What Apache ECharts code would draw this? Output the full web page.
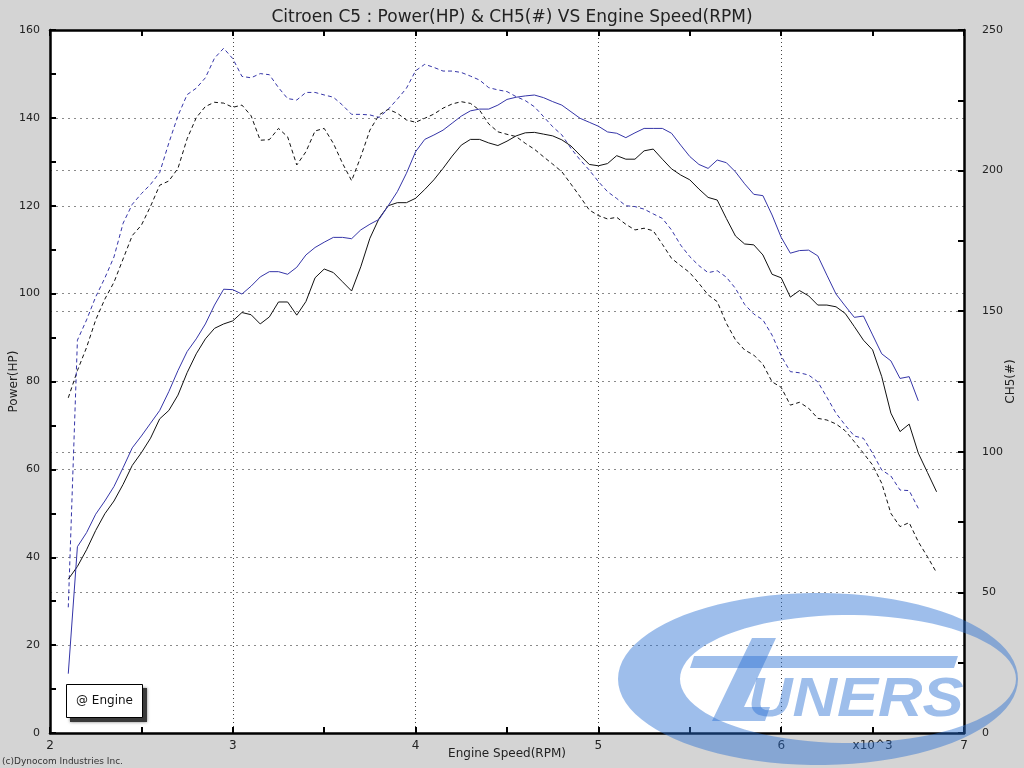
<!DOCTYPE html>
<html>
<head>
<meta charset="utf-8">
<title>Citroen C5 dyno</title>
<script src="https://cdn.jsdelivr.net/npm/echarts@6/dist/echarts.min.js"></script>
<style>
  html, body { margin: 0; padding: 0; background: #d4d4d4; }
  #chart { width: 1024px; height: 768px; }
</style>
</head>
<body>
<div id="chart"></div>
<script>
// engine speed samples (RPM), one every 50 rpm
const rpm = [
  2100, 2150, 2200, 2250, 2300, 2350, 2400, 2450, 2500, 2550,
  2600, 2650, 2700, 2750, 2800, 2850, 2900, 2950, 3000, 3050,
  3100, 3150, 3200, 3250, 3300, 3350, 3400, 3450, 3500, 3550,
  3600, 3650, 3700, 3750, 3800, 3850, 3900, 3950, 4000, 4050,
  4100, 4150, 4200, 4250, 4300, 4350, 4400, 4450, 4500, 4550,
  4600, 4650, 4700, 4750, 4800, 4850, 4900, 4950, 5000, 5050,
  5100, 5150, 5200, 5250, 5300, 5350, 5400, 5450, 5500, 5550,
  5600, 5650, 5700, 5750, 5800, 5850, 5900, 5950, 6000, 6050,
  6100, 6150, 6200, 6250, 6300, 6350, 6400, 6450, 6500, 6550,
  6600, 6650, 6700, 6750, 6800, 6850
];

// Power(HP), blue run (solid)
const powerBlue = [
  13.5, 42.4, 45.6, 49.8, 52.8, 56.1, 60.4, 64.9, 67.6, 70.5,
  73.4, 77.7, 82.5, 86.8, 89.7, 93.1, 97.4, 101.0, 100.9, 99.9,
  101.7, 103.8, 105.0, 105.0, 104.4, 106.0, 108.8, 110.5, 111.7, 112.8,
  112.8, 112.5, 114.5, 115.8, 116.9, 120.0, 123.2, 127.4, 132.3, 135.1,
  136.1, 137.2, 138.8, 140.4, 141.6, 142.0, 142.0, 142.9, 144.2, 144.7,
  145.0, 145.2, 144.6, 143.7, 142.9, 141.4, 139.9, 139.0, 138.1, 136.8,
  136.5, 135.5, 136.6, 137.6, 137.6, 137.6, 136.5, 133.8, 131.2, 129.4,
  128.5, 130.4, 129.8, 127.7, 125.0, 122.6, 122.3, 117.9, 112.8, 109.2,
  109.8, 109.9, 108.6, 104.2, 99.9, 97.2, 94.6, 94.9, 90.6, 86.3,
  84.7, 80.7, 81.1, 75.6
];

// Power(HP), black run (solid)
const powerBlack = [
  35.0, 37.9, 41.7, 46.1, 49.9, 52.8, 56.6, 60.9, 63.8, 67.1,
  71.5, 73.4, 76.9, 82.0, 86.3, 89.7, 92.1, 93.1, 93.8, 95.7,
  95.2, 93.1, 94.7, 98.1, 98.1, 95.1, 98.2, 103.6, 105.6, 104.8,
  102.7, 100.6, 106.1, 112.6, 117.1, 120.0, 120.7, 120.7, 121.7, 123.7,
  125.9, 128.5, 131.3, 133.8, 135.1, 135.1, 134.3, 133.7, 134.7, 135.9,
  136.6, 136.7, 136.3, 135.9, 135.0, 133.6, 131.5, 129.4, 129.1, 129.6,
  131.4, 130.6, 130.6, 132.5, 132.9, 130.6, 128.4, 127.0, 125.9, 123.8,
  121.9, 121.3, 117.1, 113.1, 111.3, 111.1, 108.8, 104.4, 103.6, 99.2,
  100.7, 99.5, 97.4, 97.4, 97.0, 95.5, 92.5, 89.4, 87.2, 81.1,
  72.8, 68.6, 70.3, 63.7, 59.3, 54.9
];

// CH5(#), blue run (dashed, right axis)
const ch5Blue = [
  44.7, 139.7, 146.9, 155.1, 161.8, 169.3, 181.3, 188.0, 191.8, 195.1,
  199.3, 209.8, 219.5, 227.0, 229.3, 233.0, 240.0, 243.5, 239.8, 233.5,
  233.0, 234.5, 234.1, 229.5, 225.6, 225.1, 227.8, 227.8, 226.9, 226.1,
  223.3, 220.0, 220.0, 219.8, 218.9, 221.8, 225.4, 229.3, 235.5, 237.8,
  236.7, 235.4, 235.4, 234.9, 233.6, 232.2, 229.5, 228.7, 228.1, 226.3,
  224.9, 222.7, 219.2, 215.6, 212.7, 207.9, 203.8, 200.2, 196.1, 192.5,
  190.1, 187.5, 187.2, 186.3, 184.6, 183.0, 178.9, 173.5, 169.4, 166.2,
  163.7, 164.4, 162.1, 158.1, 152.4, 149.0, 146.9, 141.5, 134.1, 128.5,
  128.1, 127.3, 124.9, 119.4, 113.7, 109.5, 105.6, 104.8, 99.5, 93.5,
  91.4, 86.4, 86.2, 79.9
];

// CH5(#), black run (dashed, right axis)
const ch5Black = [
  119.2, 128.9, 137.1, 146.9, 154.3, 160.3, 168.6, 176.9, 180.6, 187.3,
  194.8, 196.3, 200.8, 211.3, 218.8, 222.8, 224.3, 224.0, 222.5, 223.3,
  219.5, 210.8, 211.0, 215.0, 212.0, 202.0, 206.7, 214.1, 215.0, 209.7,
  202.6, 196.4, 204.9, 214.4, 219.8, 221.8, 220.4, 218.0, 217.2, 218.6,
  220.1, 222.2, 223.7, 224.5, 223.9, 221.5, 216.6, 213.8, 212.9, 212.1,
  209.7, 207.6, 204.9, 202.3, 199.6, 195.2, 190.7, 186.0, 184.0, 182.8,
  183.4, 180.9, 178.9, 179.5, 178.6, 173.8, 168.8, 166.2, 163.7, 159.9,
  155.8, 153.4, 145.7, 139.8, 136.2, 134.4, 131.1, 124.9, 122.9, 116.6,
  117.6, 115.5, 111.9, 111.3, 109.9, 107.5, 103.6, 99.5, 95.3, 88.8,
  78.1, 73.4, 74.8, 68.0, 62.7, 57.0
];

const pairs = vals => vals.map((v, i) => [rpm[i], v]);

const FONT = 'DejaVu Sans';
const BLUE = '#3535a8';
const LOGO = 'rgba(40,110,210,0.45)';

// watermark ring: outer ellipse with an offset elliptical hole
function ringPoints(cx, cy, rx, ry, cx2, rx2, ry2) {
  const pts = [];
  const n = 90;
  for (let i = 0; i <= n; i++) {
    const a = i / n * Math.PI * 2;
    pts.push([cx + rx * Math.cos(a), cy + ry * Math.sin(a)]);
  }
  for (let i = n; i >= 0; i--) {
    const a = i / n * Math.PI * 2;
    pts.push([cx2 + rx2 * Math.cos(a), cy + ry2 * Math.sin(a)]);
  }
  return pts;
}

const axisLine = { show: true, onZero: false, lineStyle: { color: '#000', width: 2.5 } };
const tick = { show: true, inside: true, length: 6, lineStyle: { color: '#000', width: 2 } };
const minor = { show: true, splitNumber: 2, length: 6, lineStyle: { color: '#000', width: 2 } };
const dotted = { show: true, lineStyle: { color: '#8a8a8a', type: [2, 4], width: 1 } };
const label = { color: '#222', fontFamily: FONT, fontSize: 11 };
const nameStyle = { fontFamily: FONT, fontSize: 12, color: '#222' };

const chart = echarts.init(document.getElementById('chart'));
chart.setOption({
  animation: false,
  backgroundColor: '#d4d4d4',
  title: {
    text: 'Citroen C5 : Power(HP) & CH5(#) VS Engine Speed(RPM)',
    left: 'center',
    top: 4,
    textStyle: { fontFamily: FONT, fontSize: 17, fontWeight: 'normal', color: '#222' }
  },
  grid: {
    left: 50, right: 60, top: 30, bottom: 35, show: true, backgroundColor: '#fff', borderWidth: 0,
    outerBoundsMode: 'none', containLabel: false
  },
  xAxis: [
    {
      type: 'value', position: 'bottom', min: 2000, max: 7000, interval: 500,
      axisLine: axisLine, axisTick: tick, splitLine: { show: false },
      axisLabel: Object.assign({}, label, {
        fontSize: 12, margin: 7,
        formatter: v => v % 1000 === 0 ? String(v / 1000) : (v === 6500 ? 'x10^3' : '')
      }),
      name: 'Engine Speed(RPM)', nameLocation: 'middle', nameGap: 15, nameMoveOverlap: false,
      nameTextStyle: nameStyle
    },
    {
      type: 'value', position: 'top', min: 2000, max: 7000, interval: 1000,
      axisLine: axisLine, axisTick: tick, minorTick: minor,
      axisLabel: { show: false },
      splitLine: { show: true, lineStyle: { color: '#444', type: [1, 3], width: 1 } }
    }
  ],
  yAxis: [
    {
      type: 'value', position: 'left', min: 0, max: 160, interval: 20,
      axisLine: axisLine, axisTick: tick, minorTick: minor, splitLine: dotted,
      axisLabel: Object.assign({}, label, { margin: 10 }),
      name: 'Power(HP)', nameLocation: 'middle', nameGap: 30, nameRotate: 90, nameMoveOverlap: false,
      nameTextStyle: nameStyle
    },
    {
      type: 'value', position: 'right', min: 0, max: 250, interval: 50,
      axisLine: axisLine, axisTick: tick, minorTick: minor, splitLine: dotted,
      axisLabel: Object.assign({}, label, { margin: 18 }),
      name: 'CH5(#)', nameLocation: 'middle', nameGap: 41, nameRotate: 90, nameMoveOverlap: false,
      nameTextStyle: nameStyle
    }
  ],
  series: [
    { name: 'CH5 black', type: 'line', yAxisIndex: 1, data: pairs(ch5Black), showSymbol: false,
      lineStyle: { color: '#111', width: 1, type: [4, 3] } },
    { name: 'CH5 blue', type: 'line', yAxisIndex: 1, data: pairs(ch5Blue), showSymbol: false,
      lineStyle: { color: BLUE, width: 1, type: [4, 3] } },
    { name: 'Power black', type: 'line', data: pairs(powerBlack), showSymbol: false,
      lineStyle: { color: '#111', width: 1 } },
    { name: 'Power blue', type: 'line', data: pairs(powerBlue), showSymbol: false,
      lineStyle: { color: BLUE, width: 1 } }
  ],
  graphic: [
    {
      type: 'rect', z: 50,
      shape: { x: 70, y: 688, width: 77, height: 34 },
      style: { fill: '#3a3a3a', shadowColor: 'rgba(0,0,0,0.5)', shadowBlur: 3 }
    },
    {
      type: 'rect', z: 51,
      shape: { x: 66.5, y: 684.5, width: 76, height: 33 },
      style: { fill: '#fff', stroke: '#000', lineWidth: 1 }
    },
    {
      type: 'text', z: 52, x: 104.5, y: 701,
      style: { text: '@ Engine', fill: '#111', font: '12px "DejaVu Sans"',
        textAlign: 'center', textVerticalAlign: 'middle', align: 'center', verticalAlign: 'middle' }
    },
    {
      type: 'text', z: 51, x: 2, y: 762,
      style: { text: '(c)Dynocom Industries Inc.', fill: '#333', font: '9px "DejaVu Sans"',
        textVerticalAlign: 'middle', verticalAlign: 'middle' }
    },
    // tuners watermark
    {
      type: 'polygon', z: 100, silent: true,
      shape: { points: ringPoints(818, 679, 200, 86, 848, 168, 64) },
      style: { fill: LOGO }
    },
    {
      type: 'polygon', z: 100, silent: true,
      shape: { points: [[694, 656], [958, 656], [954, 668], [690, 668]] },
      style: { fill: LOGO }
    },
    {
      type: 'polygon', z: 100, silent: true,
      shape: { points: [[752, 638], [776, 638], [744, 707], [770, 707], [765, 721], [712, 721]] },
      style: { fill: LOGO }
    },
    {
      type: 'text', z: 100, silent: true, x: 748, y: 701, scaleX: 1.1,
      style: { text: 'UNERS', fill: LOGO, font: 'italic bold 56px "Liberation Sans"',
        textVerticalAlign: 'middle', verticalAlign: 'middle' }
    }
  ]
});
</script>
</body>
</html>
